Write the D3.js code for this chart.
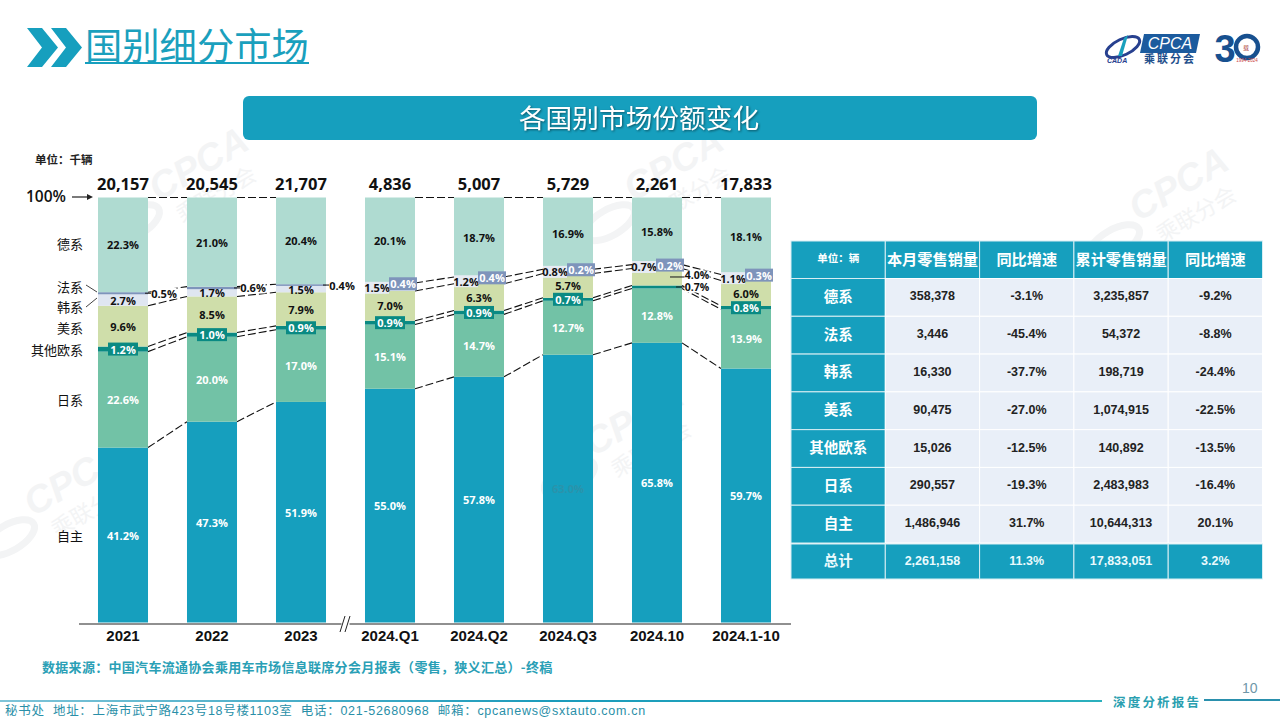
<!DOCTYPE html>
<html><head><meta charset="utf-8">
<script src="https://cdn.jsdelivr.net/npm/d3@7"></script>
<style>html,body{margin:0;padding:0;background:#fff}svg{display:block}
text{font-family:"Liberation Sans","Noto Sans CJK SC",sans-serif}
.cjk{font-family:"Noto Sans CJK SC",sans-serif}
.pct{font-family:"Open Sans","Noto Sans",sans-serif;font-weight:700;font-size:11px;text-anchor:middle;dominant-baseline:central}
</style></head><body><div id="c"></div>
<script>
// ---------- data ----------
const periods=["2021","2022","2023","2024.Q1","2024.Q2","2024.Q3","2024.10","2024.1-10"];
const totals=["20,157","20,545","21,707","4,836","5,007","5,729","2,261","17,833"];
const seriesNames=["自主","日系","其他欧系","美系","韩系","法系","德系"];
const ziZhu=[41.2,47.3,51.9,55.0,57.8,63.0,65.8,59.7];
const riXi=[22.6,20.0,17.0,15.1,14.7,12.7,12.8,13.9];
const qiTaOuXi=[1.2,1.0,0.9,0.9,0.9,0.7,0.7,0.8];
const meiXi=[9.6,8.5,7.9,7.0,6.3,5.7,4.0,6.0];
const hanXi=[2.7,1.7,1.5,1.5,1.2,0.8,0.7,1.1];
const faXi=[0.5,0.6,0.4,0.4,0.4,0.2,0.2,0.3];
const deXi=[22.3,21.0,20.4,20.1,18.7,16.9,15.8,18.1];
const seriesValues=[ziZhu,riXi,qiTaOuXi,meiXi,hanXi,faXi,deXi];

const tableHeader=["单位：辆","本月零售销量","同比增速","累计零售销量","同比增速"];
const tableNames=["德系","法系","韩系","美系","其他欧系","日系","自主"];
const monthSales=["358,378","3,446","16,330","90,475","15,026","290,557","1,486,946"];
const monthYoY=["-3.1%","-45.4%","-37.7%","-27.0%","-12.5%","-19.3%","31.7%"];
const ytdSales=["3,235,857","54,372","198,719","1,074,915","140,892","2,483,983","10,644,313"];
const ytdYoY=["-9.2%","-8.8%","-24.4%","-22.5%","-13.5%","-16.4%","20.1%"];
const totalRow=["总计","2,261,158","11.3%","17,833,051","3.2%"];

// ---------- style ----------
const colors=["#169fbe","#72c2a6","#0a8a83","#cfdeaa","#dfe6f1","#7e94bb","#afdbd1"];
const labelColors=["#fff","#fff","#fff","#111","#111","#fff","#111"];
const W=1280,H=720,teal="#169fbe";
const svg=d3.select("#c").append("svg").attr("width",W).attr("height",H);
const defs=svg.append("defs");
const grad=defs.append("linearGradient").attr("id","foot");
grad.append("stop").attr("offset","0").attr("stop-color","#7fc4d8");
grad.append("stop").attr("offset","0.5").attr("stop-color","#1a9bbb");
grad.append("stop").attr("offset","1").attr("stop-color","#2bb0bd");

// watermarks
const marks=[[205,175],[80,490],[680,175],[1185,195],[640,430]];
const wm=svg.append("g").attr("fill","#f3f4f5");
marks.forEach(([x,y])=>{
  const g=wm.append("g").attr("transform",`translate(${x},${y}) rotate(-30)`);
  g.append("ellipse").attr("cx",-85).attr("cy",6).attr("rx",28).attr("ry",13).attr("fill","none").attr("stroke","#f3f4f5").attr("stroke-width",7);
  g.append("text").attr("text-anchor","middle").attr("font-size",38).attr("font-style","italic").attr("font-weight",700).text("CPCA");
  g.append("text").attr("class","cjk").attr("text-anchor","middle").attr("y",30).attr("font-size",22).text("乘联分会");
});

// title
[[27,42,58],[51,66,82]].forEach(([a,b,c])=>svg.append("polygon")
  .attr("points",`${a},28 ${b},28 ${c},47.5 ${b},67 ${a},67 ${a+15},47.5`).attr("fill",teal));
svg.append("text").attr("class","cjk").attr("x",85).attr("y",60).attr("font-size",37.3).attr("fill","#1aa0bd").text("国别细分市场");
svg.append("line").attr("x1",85).attr("x2",309).attr("y1",63).attr("y2",63).attr("stroke",teal).attr("stroke-width",1.8);

// logo
const lg=svg.append("g");
lg.append("ellipse").attr("cx",1123).attr("cy",47).attr("rx",18).attr("ry",8).attr("transform","rotate(-25 1123 47)").attr("fill","none").attr("stroke","#27408f").attr("stroke-width",3);
lg.append("path").attr("d","M1128 35 L1122 56 L1118 56 L1124 38Z").attr("fill","#1aa0bd");
lg.append("text").attr("x",1107).attr("y",63).attr("font-size",7).attr("font-weight",700).attr("font-style","italic").attr("fill","#27408f").text("CADA");
lg.append("polygon").attr("points","1144,34 1200,34 1196,53 1140,53").attr("fill","#1c5b9e");
lg.append("text").attr("x",1170).attr("y",49).attr("text-anchor","middle").attr("font-size",16).attr("font-style","italic").attr("fill","#fff").text("CPCA");
lg.append("text").attr("class","cjk").attr("x",1170).attr("y",63).attr("text-anchor","middle").attr("font-size",11).attr("font-weight",700).attr("letter-spacing",2).attr("fill","#1f4f8c").text("乘联分会");
lg.append("text").attr("x",1225).attr("y",62).attr("text-anchor","middle").attr("font-size",38).attr("font-weight",700).attr("fill","#17508f").text("3");
lg.append("circle").attr("cx",1247).attr("cy",47).attr("r",11).attr("fill","none").attr("stroke","#17508f").attr("stroke-width",4.5);
lg.append("text").attr("x",1246).attr("y",50).attr("text-anchor","middle").attr("font-size",6).attr("fill","#a33").text("载");
lg.append("text").attr("x",1247).attr("y",62).attr("text-anchor","middle").attr("font-size",4.5).attr("fill","#c44").text("1994-2024");

// banner
svg.append("rect").attr("x",243).attr("y",96).attr("width",794).attr("height",44).attr("rx",6).attr("fill",teal);
svg.append("text").attr("class","cjk").attr("x",639).attr("y",127.5).attr("text-anchor","middle").attr("font-size",26.7).attr("fill","#fff")
  .style("filter","drop-shadow(1px 1px 1px rgba(0,0,0,.45))").text("各国别市场份额变化");

// ---------- chart ----------
const x=d3.scaleBand().domain(periods).range([78.5,790.5]).paddingInner(0.438).paddingOuter(0.219);
const y=d3.scaleLinear().domain([0,1]).range([622.5,197.5]);
const rows=periods.map((p,i)=>{const r={period:p};seriesNames.forEach((s,k)=>r[s]=seriesValues[k][i]);return r;});
const stacked=d3.stack().keys(seriesNames).offset(d3.stackOffsetExpand)(rows);
const bw=x.bandwidth();

const barG=svg.append("g");
stacked.forEach((layer,k)=>{
  barG.append("g").attr("fill",colors[k]).selectAll("rect").data(layer).join("rect")
    .attr("x",d=>x(d.data.period)).attr("width",bw)
    .attr("y",d=>y(d[1])).attr("height",d=>y(d[0])-y(d[1]));
});

// axis
const axisG=svg.append("g").attr("transform","translate(0,623.5)")
  .call(d3.axisBottom(x).tickSize(0).tickPadding(7));
axisG.select(".domain").attr("stroke","#222").attr("stroke-width",1.2);
axisG.selectAll("text").attr("font-size",15).attr("font-weight",700).attr("fill","#111")
  .style("font-family",'"Liberation Sans",sans-serif');
const breakX=(x(periods[2])+bw+x(periods[3]))/2;
svg.append("rect").attr("x",breakX-4).attr("y",620).attr("width",8).attr("height",7).attr("fill","#fff");
[-3,2].forEach(o=>svg.append("line").attr("x1",breakX+o-2.5).attr("x2",breakX+o+2.5).attr("y1",632).attr("y2",616).attr("stroke","#222").attr("stroke-width",1));

// connectors
const conn=svg.append("g").attr("fill","none").attr("stroke","#111").attr("stroke-width",1.1).attr("stroke-dasharray","8 3");
const levels=[0,1,2,3,5,6];
levels.forEach(k=>{
  for(let i=0;i<periods.length-1;i++){
    if(i===2) continue;
    conn.append("line")
      .attr("x1",x(periods[i])+bw).attr("x2",x(periods[i+1]))
      .attr("y1",y(stacked[k][i][1])).attr("y2",y(stacked[k][i+1][1]));
  }
});

// totals
svg.append("g").selectAll("text").data(periods).join("text")
  .attr("x",d=>x(d)+bw/2).attr("y",190).attr("text-anchor","middle")
  .attr("font-size",16.5).attr("font-weight",700).attr("fill","#111")
  .style("font-family",'"Open Sans",sans-serif').text((d,i)=>totals[i]);

// labels
const labelG=svg.append("g");
function pct(v,cx,cy,{fill="#111",bg=null,w=30,h=13,size=null}={}){
  if(bg) labelG.append("rect").attr("x",cx-w/2).attr("y",cy-h/2).attr("width",w).attr("height",h).attr("fill",bg);
  const t=labelG.append("text").attr("class","pct").attr("x",cx).attr("y",cy).attr("fill",fill).text(v.toFixed(1)+"%");
  if(size) t.style("font-size",size+"px");
}
function leader(x1,x2,yy){labelG.append("line").attr("x1",x1).attr("x2",x2).attr("y1",yy).attr("y2",yy).attr("stroke","#222").attr("stroke-width",1.1);}
periods.forEach((p,i)=>{
  const cx=x(p)+bw/2, right=x(p)+bw;
  seriesValues.forEach((vals,k)=>{
    const d=stacked[k][i], cy=y((d[0]+d[1])/2), v=vals[i];
    if(k===2){
      if(i===6){
        leader(right-6,right+3,cy);
        pct(v,right+15,cy+0.5,{bg:"#fff",w:25,h:10,size:10.5});
      } else pct(v,cx,cy,{fill:"#fff",bg:"#0a8a83",w:30,h:13});
    } else if(k===3&&i===6){
      leader(right-12,right+3,cy);
      pct(v,right+15,cy-1.5,{bg:"#fff",w:25,h:10,size:10.5});
    } else if(k===4&&i>=3){
      pct(v,cx-13,cy,{bg:"#e6ebf3",w:24,h:12});
    } else if(k===5){
      if(i<3){
        leader(right-3,right+3,cy);
        pct(v,right+16,cy,{bg:"#fff",w:25,h:11});
      } else pct(v,cx+13,cy,{fill:"#fff",bg:"#7e94bb",w:28,h:13});
    } else {
      const hide=(k===0&&i===5);
      pct(v,cx,cy,{fill:hide?"#2a93ab":labelColors[k]});
    }
  });
});

// left labels
const sideY={"德系":244,"法系":287,"韩系":307,"美系":328,"其他欧系":350,"日系":400,"自主":536};
svg.append("g").selectAll("text").data(seriesNames).join("text").attr("class","cjk")
  .attr("x",83).attr("y",d=>sideY[d]+4.5).attr("text-anchor","end").attr("font-size",13).attr("fill","#111").text(d=>d);
svg.append("path").attr("d","M86 285 L97 292 M86 307 L97 298").attr("stroke","#444").attr("fill","none");
svg.append("text").attr("x",46).attr("y",202).attr("text-anchor","middle").attr("font-size",15.5).attr("fill","#111")
  .style("font-family",'"Open Sans",sans-serif').attr("font-weight",600).text("100%");
svg.append("line").attr("x1",72).attr("x2",88).attr("y1",197).attr("y2",197).attr("stroke","#222").attr("stroke-width",1.2);
svg.append("polygon").attr("points","87,194 93,197 87,200").attr("fill","#222");
svg.append("text").attr("class","cjk").attr("x",35).attr("y",164).attr("font-size",11.5).attr("font-weight",700).attr("fill","#222").text("单位：千辆");

// ---------- table ----------
const colX=d3.scaleBand().domain(d3.range(5)).range([791,1262.5]);
const rowY=d3.scaleBand().domain(d3.range(7)).range([278.5,543]);
const tb=svg.append("g");
function cell(c,yy,h,txt,{bg,fill,size=12.5,cjk=false}){
  tb.append("rect").attr("x",colX(c)).attr("y",yy).attr("width",colX.bandwidth()).attr("height",h)
    .attr("fill",bg).attr("stroke",bg==="#e9eff8"?"#fff":"#d8eef3").attr("stroke-width",1);
  tb.append("text").attr("class",cjk?"cjk":null).attr("x",colX(c)+colX.bandwidth()/2).attr("y",yy+h/2-(cjk?2:1))
    .attr("text-anchor","middle").attr("dominant-baseline","central")
    .attr("font-size",size).attr("font-weight",700).attr("fill",fill).text(txt);
}
tableHeader.forEach((t,c)=>cell(c,241,37.5,t,{bg:teal,fill:"#fff",size:c?15.2:10.5,cjk:true}));
tableNames.forEach((n,r)=>{
  const yy=rowY(r),h=rowY.bandwidth();
  cell(0,yy,h,n,{bg:teal,fill:"#fff",size:14.5,cjk:true});
  [monthSales,monthYoY,ytdSales,ytdYoY].forEach((a,c)=>cell(c+1,yy,h,a[r],{bg:"#e9eff8",fill:"#222"}));
});
totalRow.forEach((t,c)=>cell(c,544,35,t,{bg:teal,fill:"#eafafd",size:c?12.5:14.5,cjk:c===0}));

// ---------- footer ----------
svg.append("text").attr("class","cjk").attr("x",42).attr("y",672).attr("font-size",13).attr("font-weight",700).attr("letter-spacing",0.3).attr("fill","#2a9fb6")
  .text("数据来源：中国汽车流通协会乘用车市场信息联席分会月报表（零售，狭义汇总）-终稿");
svg.append("rect").attr("x",0).attr("y",700).attr("width",1102).attr("height",2).attr("fill","url(#foot)");
svg.append("rect").attr("x",1204).attr("y",699).attr("width",76).attr("height",2).attr("fill","#2a90ad");
svg.append("text").attr("x",1113).attr("y",707).attr("font-size",12.5).attr("font-weight",700).attr("letter-spacing",2.2).attr("fill","#2a9fb0")
  .style("font-family",'"Noto Sans CJK SC",serif').text("深度分析报告");
svg.append("text").attr("x",1242).attr("y",693).attr("font-size",14).attr("fill","#6f97a8").text("10");
svg.append("text").attr("x",5).attr("y",715).attr("font-size",12.5).attr("letter-spacing",0.7).attr("fill","#2a8fa8")
  .style("white-space","pre").text("秘书处  地址：上海市武宁路423号18号楼1103室  电话：021-52680968  邮箱：cpcanews@sxtauto.com.cn");
</script></body></html>
